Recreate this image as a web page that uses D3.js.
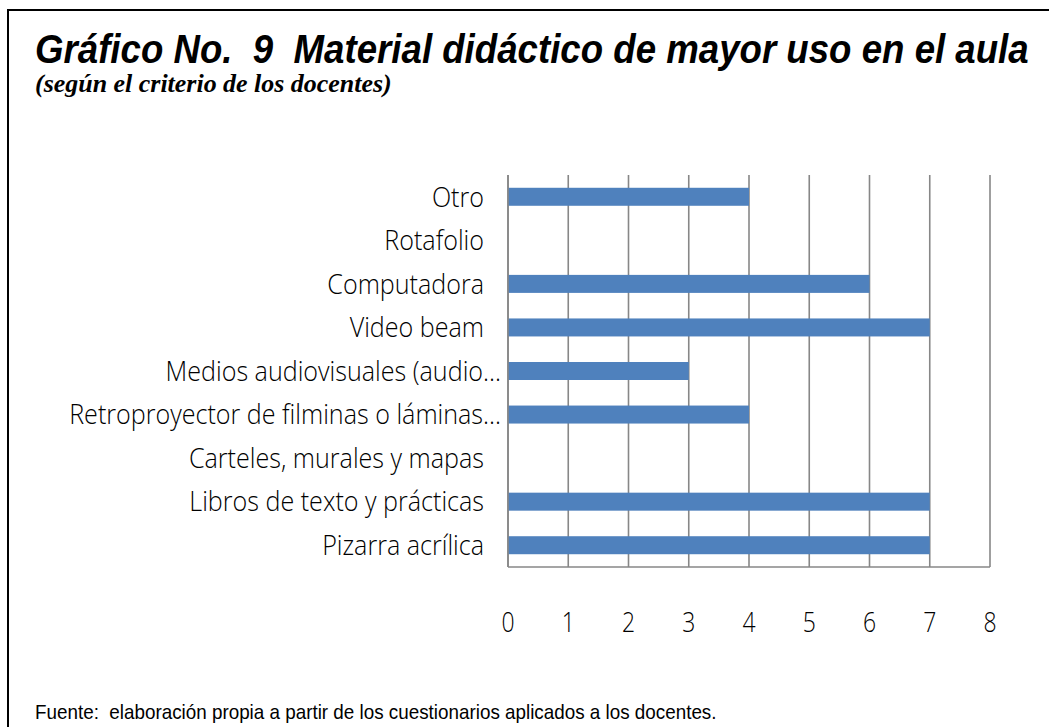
<!DOCTYPE html>
<html><head><meta charset="utf-8">
<script src="https://cdn.jsdelivr.net/npm/d3@7"></script>
<style>body{margin:0;background:#fff;}svg{display:block;} text{white-space:pre;}</style>
</head><body>
<svg id="c" width="1049" height="727"></svg>
<script>
const categories = ["Pizarra acrílica","Libros de texto y prácticas","Carteles, murales y mapas","Retroproyector de filminas o láminas…","Medios audiovisuales (audio…","Video beam","Computadora","Rotafolio","Otro"];
const values = [7,7,0,4,3,7,6,0,4];
const ticks = [0,1,2,3,4,5,6,7,8];
const titleText = "Gráfico No.  9  Material didáctico de mayor uso en el aula";
const subtitleText = "(según el criterio de los docentes)";
const sourceText = "Fuente:  elaboración propia a partir de los cuestionarios aplicados a los docentes.";

const svg = d3.select("#c");
svg.append("rect").attr("width",1049).attr("height",727).attr("fill","#fff");
// frame
svg.append("path").attr("d","M8,727 V10 H1049").attr("fill","none").attr("stroke","#000").attr("stroke-width",2);

function fitText(sel, x, y, w){
  const len = sel.node().getComputedTextLength();
  sel.attr("transform",`translate(${x},${y}) scale(${w/len},1)`);
}
const t = svg.append("text").text(titleText)
  .attr("font-family","Liberation Sans, Arial, sans-serif").attr("font-weight","bold").attr("font-style","italic")
  .attr("font-size",41).attr("fill","#000");
fitText(t,35,63,994);
const st = svg.append("text").text(subtitleText)
  .attr("font-family","Liberation Serif, Times New Roman, serif").attr("font-weight","bold").attr("font-style","italic")
  .attr("font-size",25).attr("fill","#000");
fitText(st,35,92,357);
const ft = svg.append("text").text(sourceText)
  .attr("font-family","Liberation Sans, Arial, sans-serif")
  .attr("font-size",21).attr("fill","#000");
fitText(ft,35,719,682);

const x = d3.scaleLinear().domain([0,8]).range([508,990]);
const y = d3.scaleBand().domain(categories).range([567,175]).padding(0);
const barH = 18;
const grid = "#878787";

const g = svg.append("g");
g.selectAll("line.grid").data(ticks).join("line").attr("class","grid")
  .attr("x1",d=>x(d)).attr("x2",d=>x(d)).attr("y1",175).attr("y2",567)
  .attr("stroke",grid).attr("stroke-width",1.6);
g.append("line").attr("x1",x(0)).attr("x2",x(8)).attr("y1",567).attr("y2",567).attr("stroke",grid).attr("stroke-width",1.6);

g.selectAll("rect.bar").data(categories).join("rect").attr("class","bar")
  .attr("x",x(0)).attr("width",(d,i)=>x(values[i])-x(0))
  .attr("y",d=>y(d)+y.bandwidth()/2-barH/2).attr("height",barH)
  .attr("fill","#4F81BD");

g.append("line").attr("x1",x(0)).attr("x2",x(0)).attr("y1",175).attr("y2",567).attr("stroke",grid).attr("stroke-width",1.6);

const lblFont = "Open Sans, Liberation Sans, sans-serif";
g.selectAll("text.cat").data(categories).join("text").attr("class","cat")
  .attr("transform",d=>`translate(${d.endsWith("…") ? x(0)-7 : x(0)-24},${y(d)+y.bandwidth()/2}) scale(0.93,1)`)
  .attr("text-anchor","end").attr("dy","0.36em")
  .attr("font-family",lblFont).attr("font-weight",300).attr("font-size",27).attr("fill","#000")
  .text(d=>d);

g.selectAll("text.tick").data(ticks).join("text").attr("class","tick")
  .attr("transform",d=>`translate(${x(d)},622) scale(0.85,1)`)
  .attr("text-anchor","middle").attr("dy","0.36em")
  .attr("font-family",lblFont).attr("font-weight",300).attr("font-size",27).attr("fill","#000")
  .text(d=>d);
</script>
</body></html>
